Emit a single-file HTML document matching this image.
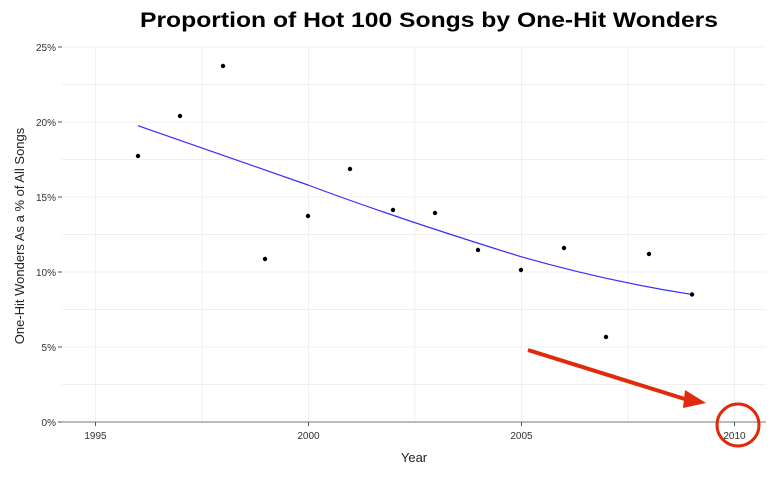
<!DOCTYPE html>
<html><head><style>body{margin:0;background:#fff}</style></head><body>
<svg width="778" height="472" xmlns="http://www.w3.org/2000/svg" font-family="Liberation Sans, sans-serif">
<rect width="778" height="472" fill="#fff"/>
<text x="140" y="27" font-size="21" font-weight="bold" textLength="578" lengthAdjust="spacingAndGlyphs">Proportion of Hot 100 Songs by One-Hit Wonders</text>
<g stroke="#f0f0f0" stroke-width="1">
<line x1="62" x2="766" y1="47" y2="47"/><line x1="62" x2="766" y1="84.5" y2="84.5"/><line x1="62" x2="766" y1="122" y2="122"/><line x1="62" x2="766" y1="159.5" y2="159.5"/><line x1="62" x2="766" y1="197" y2="197"/><line x1="62" x2="766" y1="234.5" y2="234.5"/><line x1="62" x2="766" y1="272" y2="272"/><line x1="62" x2="766" y1="309.5" y2="309.5"/><line x1="62" x2="766" y1="347" y2="347"/><line x1="62" x2="766" y1="384.5" y2="384.5"/>
<line x1="95.5" x2="95.5" y1="47" y2="422"/><line x1="202" x2="202" y1="47" y2="422"/><line x1="308.5" x2="308.5" y1="47" y2="422"/><line x1="415" x2="415" y1="47" y2="422"/><line x1="521.5" x2="521.5" y1="47" y2="422"/><line x1="628" x2="628" y1="47" y2="422"/><line x1="734.5" x2="734.5" y1="47" y2="422"/>
</g>
<line x1="62" x2="766" y1="422" y2="422" stroke="#777" stroke-width="1"/>
<g stroke="#555"><line x1="58" x2="62" y1="47" y2="47"/><line x1="58" x2="62" y1="122" y2="122"/><line x1="58" x2="62" y1="197" y2="197"/><line x1="58" x2="62" y1="272" y2="272"/><line x1="58" x2="62" y1="347" y2="347"/><line x1="58" x2="62" y1="422" y2="422"/>
<line x1="95.5" x2="95.5" y1="422" y2="426"/><line x1="308.5" x2="308.5" y1="422" y2="426"/><line x1="521.5" x2="521.5" y1="422" y2="426"/><line x1="734.5" x2="734.5" y1="422" y2="426"/></g>
<g font-size="10" fill="#333" text-anchor="end"><text x="56" y="51">25%</text><text x="56" y="126">20%</text><text x="56" y="201">15%</text><text x="56" y="276">10%</text><text x="56" y="351">5%</text><text x="56" y="426">0%</text></g>
<g font-size="10" fill="#333" text-anchor="middle"><text x="95.5" y="439">1995</text><text x="308.5" y="439">2000</text><text x="521.5" y="439">2005</text><text x="734.5" y="439">2010</text></g>
<text x="414" y="462" text-anchor="middle" font-size="13" fill="#222">Year</text>
<text transform="translate(24,236) rotate(-90)" text-anchor="middle" font-size="13" fill="#222">One-Hit Wonders As a % of All Songs</text>
<path d="M138,125.7 Q223,155 308,185 Q393,217 521,256.7 Q606,281 691,294.3" fill="none" stroke="#3a2cff" stroke-width="1.2"/>
<g fill="#000">
<circle cx="138" cy="156" r="2.2"/><circle cx="180" cy="116" r="2.2"/><circle cx="223" cy="66" r="2.2"/><circle cx="265" cy="259" r="2.2"/><circle cx="308" cy="216" r="2.2"/><circle cx="350" cy="169" r="2.2"/><circle cx="393" cy="210" r="2.2"/><circle cx="435" cy="213" r="2.2"/><circle cx="478" cy="250" r="2.2"/><circle cx="521" cy="270" r="2.2"/><circle cx="564" cy="248" r="2.2"/><circle cx="606" cy="337" r="2.2"/><circle cx="649" cy="254" r="2.2"/><circle cx="692" cy="294.5" r="2.2"/>
</g>
<line x1="528" y1="350" x2="688" y2="400" stroke="#e02a0a" stroke-width="4"/>
<polygon points="706,403 685,390 683,408" fill="#e02a0a"/>
<circle cx="738" cy="425" r="21" fill="none" stroke="#e02a0a" stroke-width="3"/>
</svg>
</body></html>
